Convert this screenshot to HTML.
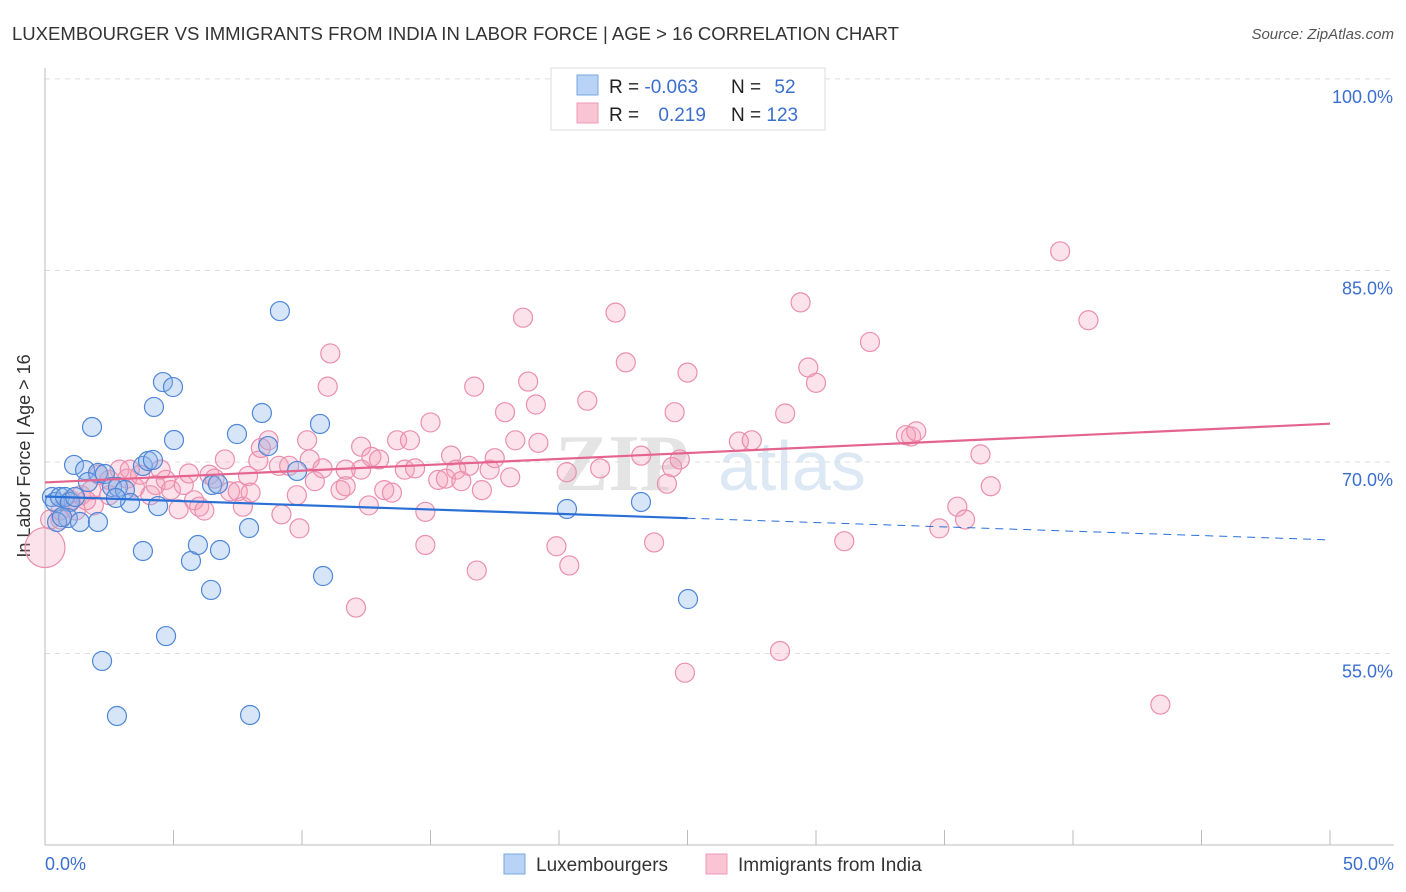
<!DOCTYPE html>
<html><head><meta charset="utf-8"><style>
body{margin:0;background:#fff;font-family:"Liberation Sans",sans-serif}
svg{display:block}
</style></head><body>
<svg id="c" width="1406" height="892">
<text x="12" y="40" font-size="18" fill="#333" textLength="887" lengthAdjust="spacingAndGlyphs">LUXEMBOURGER VS IMMIGRANTS FROM INDIA IN LABOR FORCE | AGE &gt; 16 CORRELATION CHART</text>
<text x="1394" y="39" font-size="15" fill="#555" font-style="italic" text-anchor="end">Source: ZipAtlas.com</text>
<text x="30" y="456" font-size="18" fill="#333" text-anchor="middle" transform="rotate(-90 30 456)">In Labor Force | Age &gt; 16</text>
<g><text x="555" y="490" font-size="80" fill="#e4e4e4" font-family="Liberation Serif" font-weight="bold">ZIP</text><text x="718" y="490" font-size="70" fill="#dde8f5">atlas</text></g>
<g id="grid"></g><g id="marks"></g><g id="lines"></g>
<g>
<rect x="551" y="68" width="274" height="62" fill="#fff" stroke="#ddd"/>
<rect x="577" y="75" width="21" height="20" fill="#b8d3f5" stroke="#7aa7e0"/>
<rect x="577" y="103" width="21" height="20" fill="#f9c5d5" stroke="#ec9ab5"/>
<text x="609" y="93" font-size="19" fill="#222">R = <tspan fill="#3b6fcf">-0.063</tspan></text>
<text x="731" y="93" font-size="19" fill="#222">N = <tspan fill="#3b6fcf" dx="8">52</tspan></text>
<text x="609" y="121" font-size="19" fill="#222">R = <tspan fill="#3b6fcf" dx="14">0.219</tspan></text>
<text x="731" y="121" font-size="19" fill="#222">N = <tspan fill="#3b6fcf">123</tspan></text>
</g>
<g>
<rect x="504" y="854" width="21" height="20" fill="#b8d3f5" stroke="#7aa7e0"/>
<text x="536" y="871" font-size="19" fill="#333">Luxembourgers</text>
<rect x="706" y="854" width="21" height="20" fill="#f9c5d5" stroke="#ec9ab5"/>
<text x="738" y="871" font-size="19" fill="#333">Immigrants from India</text>
</g>
</svg>
<script>
const yTicks=[55,70,85,100];
const xTickLabels=["0.0%","50.0%"];
const blueX=[0.27,0.39,0.58,0.78,0.97,1.17,0.89,1.36,1.13,1.56,1.83,2.06,2.33,1.67,2.61,2.84,3.11,3.31,2.76,3.81,4.01,4.20,4.40,4.59,4.98,4.24,5.02,3.81,5.68,5.95,6.50,6.73,6.81,6.46,4.71,2.22,2.80,7.47,8.44,8.68,7.94,7.98,9.14,9.81,10.70,10.82,20.31,23.19,25.02,2.06,0.47,0.66];
const blueY=[67.26,66.87,67.26,67.26,66.87,67.26,65.61,65.30,69.77,69.37,72.74,69.14,69.06,68.43,68.04,68.04,67.81,66.79,67.18,69.69,70.08,70.16,66.55,76.26,75.87,74.31,71.72,63.03,62.25,63.50,68.20,68.28,63.11,59.98,56.37,54.42,50.11,72.19,73.84,71.25,64.83,50.19,81.82,69.30,72.98,61.07,66.32,66.87,59.27,65.30,65.30,65.69];
const pinkX=[0.0,0.2,0.6,1.0,1.4,1.8,1.9,2.1,2.5,2.9,3.2,3.5,3.7,4.1,4.3,4.7,4.9,5.2,5.4,5.6,5.8,6.0,6.2,6.4,6.6,7.0,7.2,7.5,7.7,7.9,8.3,8.4,8.7,9.1,9.2,9.5,9.8,9.9,10.2,10.3,10.5,10.8,11.1,11.0,11.5,11.7,12.1,12.3,12.3,12.6,12.7,13.0,13.2,13.5,13.7,14.0,14.2,14.4,14.8,14.8,15.0,15.3,15.6,15.8,16.0,16.2,16.5,16.7,16.8,17.0,17.3,17.5,17.9,18.1,18.3,18.6,18.8,19.1,19.2,19.9,20.3,20.4,21.1,21.6,22.2,22.6,23.2,23.7,24.2,24.4,24.5,24.7,24.9,25.0,27.0,27.5,28.6,28.8,29.4,29.7,30.0,31.1,32.1,33.5,33.7,33.9,34.8,35.5,35.8,36.4,36.8,39.5,40.6,43.4,0.6,1.2,1.6,2.5,3.3,4.5,8.0,11.7];
const pinkY=[63.3,65.5,66.2,67.0,67.4,67.8,66.6,69.0,68.6,69.4,68.7,68.0,69.0,67.4,68.2,68.6,67.8,66.3,68.2,69.1,67.0,66.5,66.2,69.0,68.7,70.2,67.7,67.7,66.5,68.9,70.1,71.1,71.7,69.7,65.9,69.7,67.4,64.8,71.7,70.2,68.5,69.5,78.5,75.9,67.8,68.1,58.6,69.4,71.2,66.6,70.4,70.2,67.8,67.6,71.7,69.4,71.7,69.5,66.1,63.5,73.1,68.6,68.7,70.5,69.4,68.5,69.7,75.9,61.5,67.8,69.4,70.3,73.9,68.8,71.7,81.3,76.3,74.5,71.5,63.4,69.2,61.9,74.8,69.5,81.7,77.8,70.5,63.7,68.3,69.6,73.9,70.2,53.5,77.0,71.6,71.7,55.2,73.8,82.5,77.4,76.2,63.8,79.4,72.1,72.0,72.4,64.8,66.5,65.5,70.6,68.1,86.5,81.1,51.0,65.5,66.2,67.0,67.4,69.4,69.4,67.6,69.4];
const blueTrend=[67.3,63.9];
const pinkTrend=[68.4,73.0];
const NS="http://www.w3.org/2000/svg";
const X0=45,X1=1330;
function xs(v){return X0+(v/50)*(X1-X0);}
function ys(v){return 462-(v-70)*12.77;}
function mk(t,a,p){const e=document.createElementNS(NS,t);for(const k in a)e.setAttribute(k,a[k]);p.appendChild(e);return e;}
const g=document.getElementById('grid');
yTicks.forEach(t=>{
 const l=mk('line',{x1:45,x2:1394,y1:ys(t),y2:ys(t),stroke:'#ddd','stroke-dasharray':'5,5'},g);
 
 
 const tx=mk('text',{x:1393,y:ys(t)+24,'font-size':18,fill:'#3b6fcf','text-anchor':'end'},g);
 tx.textContent=t.toFixed(1)+'%';
 
 
});
const ax=mk('line',{x1:45,x2:45,y1:68,y2:845,stroke:'#bbb'},g);


const bx=mk('line',{x1:45,x2:1394,y1:845,y2:845,stroke:'#bbb'},g);


for(let i=0;i<=10;i++){const t=mk('line',{x1:xs(i*5),x2:xs(i*5),y1:830,y2:845,stroke:'#bbb'},g);
 
 }
[[0,'start',45],[50,'end',1394]].forEach((d,i)=>{const t=mk('text',{x:d[2],y:870,'font-size':18,fill:'#3b6fcf','text-anchor':d[1]},g);t.textContent=xTickLabels[i];
 
 });
const m=document.getElementById('marks');
pinkX.forEach((x,i)=>{const c=mk('circle',{cx:xs(x),cy:ys(pinkY[i]),r:i==0?20:9.5,fill:'rgba(244,160,186,0.3)',stroke:'#ea8fae','stroke-width':1.2},m);
 
 });
blueX.forEach((x,i)=>{const c=mk('circle',{cx:xs(x),cy:ys(blueY[i]),r:9.5,fill:'rgba(140,180,235,0.35)',stroke:'#4f86d6','stroke-width':1.2},m);
 
 });
const L=document.getElementById('lines');
const bAt=v=>blueTrend[0]+(blueTrend[1]-blueTrend[0])*v/50;
let l1=mk('line',{x1:xs(0),y1:ys(bAt(0)),x2:xs(25),y2:ys(bAt(25)),stroke:'#2a6fd6','stroke-width':2.2},L);


let l2=mk('line',{x1:xs(25),y1:ys(bAt(25)),x2:xs(50),y2:ys(bAt(50)),stroke:'#2a6fd6','stroke-width':1,'stroke-dasharray':'8,6'},L);


let l3=mk('line',{x1:xs(0),y1:ys(pinkTrend[0]),x2:xs(50),y2:ys(pinkTrend[1]),stroke:'#e4648e','stroke-width':2.2},L);


</script>
</body></html>
